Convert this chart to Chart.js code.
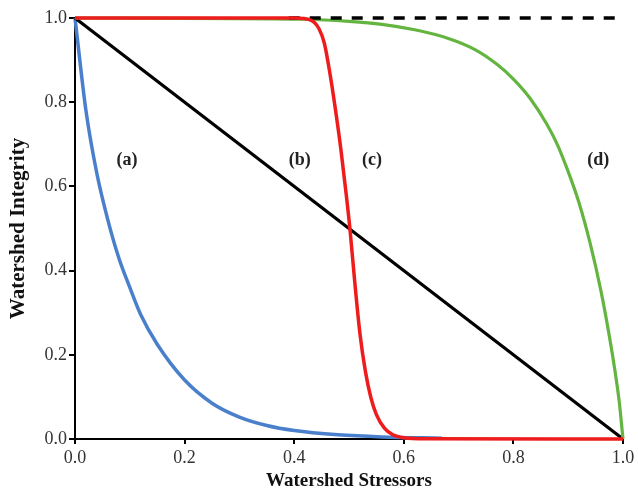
<!DOCTYPE html>
<html>
<head>
<meta charset="utf-8">
<script src="https://cdn.jsdelivr.net/npm/chart.js@4/dist/chart.umd.min.js"></script>
<style>
  html, body { margin: 0; padding: 0; background: #fff; }
  #wrap { width: 638px; height: 492px; position: relative; }
</style>
</head>
<body>
<div id="wrap"><canvas id="c" width="638" height="492"></canvas></div>
<script>
// ---- data ----
const xTickLabels = ['0.0', '0.2', '0.4', '0.6', '0.8', '1.0'];
const yTickLabels = ['0.0', '0.2', '0.4', '0.6', '0.8', '1.0'];

// (a) blue
const curveAX = [0, 0.02, 0.04, 0.06, 0.08, 0.10, 0.12, 0.15, 0.20, 0.25, 0.30, 0.35, 0.40, 0.48, 0.56, 0.67];
const curveAY = [1.0, 0.78, 0.63, 0.52, 0.43, 0.36, 0.295, 0.225, 0.14, 0.085, 0.052, 0.032, 0.02, 0.01, 0.005, 0.002];

// (b) black
const curveBX = [0, 1];
const curveBY = [1, 0];

// (c) red
const curveCX = [0, 0.40, 0.43, 0.445, 0.455, 0.465, 0.475, 0.485, 0.495, 0.502, 0.51, 0.52, 0.53, 0.54, 0.55, 0.565, 0.58, 0.60, 0.64, 1.0];
const curveCY = [1, 1, 0.995, 0.975, 0.94, 0.87, 0.785, 0.69, 0.58, 0.495, 0.38, 0.25, 0.16, 0.098, 0.058, 0.025, 0.01, 0.003, 0.0005, 0];

// (d) green
const curveDX = [0, 0.42, 0.50, 0.56, 0.62, 0.68, 0.73, 0.77, 0.80, 0.83, 0.86, 0.88, 0.90, 0.92, 0.94, 0.96, 0.975, 0.985, 0.993, 1.0];
const curveDY = [1, 0.997, 0.992, 0.985, 0.972, 0.952, 0.925, 0.89, 0.855, 0.81, 0.75, 0.70, 0.635, 0.56, 0.465, 0.35, 0.245, 0.165, 0.09, 0];

// dashed reference line
const refX = [0.39, 0.99];
const refY = [1.0, 1.0];

const curveLabels = ['(a)', '(b)', '(c)', '(d)'];
const curveLabelX = [0.095, 0.41, 0.542, 0.955];
const curveLabelY = [0.663, 0.663, 0.663, 0.663];

const toPts = (xs, ys) => xs.map((x, i) => ({ x: x, y: ys[i] }));

const serif = "'Liberation Serif', 'Times New Roman', serif";

const labelPlugin = {
  id: 'curveLabels',
  afterDatasetsDraw(chart) {
    const { ctx, scales } = chart;
    ctx.save();
    ctx.font = "bold 18px " + serif;
    ctx.fillStyle = '#222';
    ctx.textAlign = 'center';
    ctx.textBaseline = 'middle';
    curveLabels.forEach((t, i) => {
      ctx.fillText(t, scales.x.getPixelForValue(curveLabelX[i]), scales.y.getPixelForValue(curveLabelY[i]));
    });
    ctx.restore();
  }
};

const common = { pointRadius: 0, fill: false, clip: false, cubicInterpolationMode: 'monotone' };

new Chart(document.getElementById('c'), {
  type: 'line',
  data: {
    datasets: [
      Object.assign({ label: '(c)', data: toPts(curveCX, curveCY), borderColor: '#ee1c1c', borderWidth: 3.5, order: 1 }, common),
      Object.assign({ label: 'ref', data: toPts(refX, refY), borderColor: '#000', borderWidth: 3.5, borderDash: [11, 10], order: 2 }, common),
      Object.assign({ label: '(d)', data: toPts(curveDX, curveDY), borderColor: '#63b540', borderWidth: 3.2, order: 3 }, common),
      Object.assign({ label: '(b)', data: toPts(curveBX, curveBY), borderColor: '#000', borderWidth: 3.2, order: 4 }, common),
      Object.assign({ label: '(a)', data: toPts(curveAX, curveAY), borderColor: '#4a7fcb', borderWidth: 3.5, order: 5 }, common)
    ]
  },
  options: {
    responsive: false,
    animation: false,
    devicePixelRatio: 1,
    layout: { padding: { top: 18, right: 15, left: 0, bottom: 0 } },
    plugins: { legend: { display: false }, tooltip: { enabled: false } },
    scales: {
      x: {
        type: 'linear', min: 0, max: 1,
        afterFit(s) { s.height = 53; },
        afterBuildTicks(s) { s.ticks = xTickLabels.map(v => ({ value: parseFloat(v) })); },
        ticks: {
          callback: (v, i) => xTickLabels[i],
          color: '#333', padding: 3, maxRotation: 0,
          font: { family: serif, size: 18 }
        },
        grid: { drawOnChartArea: false, drawTicks: true, tickLength: 5, color: '#000', lineWidth: 2 },
        border: { display: true, color: '#000', width: 2 },
        title: { display: true, text: 'Watershed Stressors', color: '#111', font: { family: serif, size: 19, weight: 'bold' }, padding: { top: 0, bottom: 0 } }
      },
      y: {
        type: 'linear', min: 0, max: 1,
        afterFit(s) { s.width = 75; },
        afterBuildTicks(s) { s.ticks = yTickLabels.map(v => ({ value: parseFloat(v) })); },
        ticks: {
          callback: (v, i) => yTickLabels[i],
          color: '#333', padding: 2,
          font: { family: serif, size: 18 }
        },
        grid: { drawOnChartArea: false, drawTicks: true, tickLength: 6, color: '#000', lineWidth: 2 },
        border: { display: true, color: '#000', width: 2 },
        title: { display: true, text: 'Watershed Integrity', color: '#111', font: { family: serif, size: 21, weight: 'bold' }, padding: { top: 6, bottom: 0 } }
      }
    }
  },
  plugins: [labelPlugin]
});
</script>
</body>
</html>
